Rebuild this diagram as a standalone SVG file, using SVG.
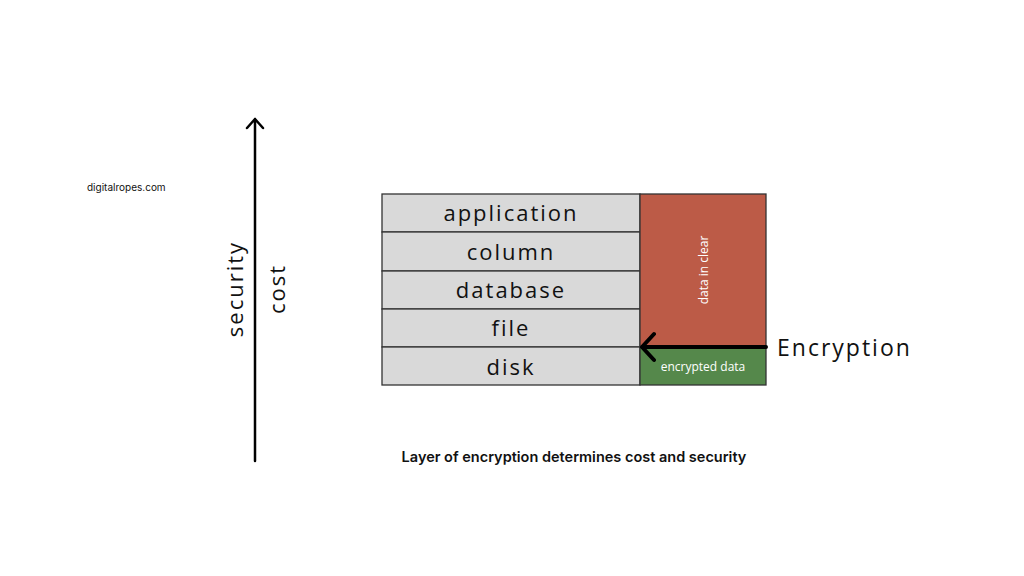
<svg xmlns="http://www.w3.org/2000/svg" width="1024" height="576" viewBox="0 0 1024 576">
<style>
.row{fill:#d9d9d9;stroke:#333;stroke-width:1.3}
.lbl{font-family:"Open Sans",sans-serif;font-size:22px;letter-spacing:2px;fill:#111;text-anchor:middle}
.ln{stroke:#000;fill:none;stroke-linecap:round;stroke-linejoin:round}
</style>
<rect width="1024" height="576" fill="#fff"/>
<text x="87" y="191" font-family="Inter,sans-serif" font-size="10" fill="#111">digitalropes.com</text>
<g id="axis">
<path class="ln" d="M255 461V119M247 128L255 119L263 128" stroke-width="2.5"/>
<text transform="translate(243 289) rotate(-90)" class="lbl">security</text>
<text transform="translate(285 289) rotate(-90)" class="lbl">cost</text>
</g>
<g id="application"><rect class="row" x="382" y="194" width="258" height="38"/><text class="lbl" x="511" y="221">application</text></g>
<g id="column"><rect class="row" x="382" y="232" width="258" height="39"/><text class="lbl" x="511" y="260">column</text></g>
<g id="database"><rect class="row" x="382" y="271" width="258" height="38"/><text class="lbl" x="511" y="298">database</text></g>
<g id="file"><rect class="row" x="382" y="309" width="258" height="38"/><text class="lbl" x="511" y="336">file</text></g>
<g id="disk"><rect class="row" x="382" y="347" width="258" height="38"/><text class="lbl" x="511" y="375">disk</text></g>
<g id="clear"><rect x="640" y="194" width="126" height="153" fill="#bc5b47" stroke="#333" stroke-width="1.3"/>
<text transform="translate(708 270) rotate(-90)" font-family="Open Sans,sans-serif" font-size="12" fill="#fff" text-anchor="middle">data in clear</text></g>
<g id="encrypted"><rect x="640" y="347" width="126" height="38" fill="#55884b" stroke="#333" stroke-width="1.3"/>
<text x="703" y="371" font-family="Open Sans,sans-serif" font-size="12" fill="#fff" text-anchor="middle">encrypted data</text></g>
<g id="connectors">
<path class="ln" d="M766 347H642M654 334L642 347L654 360" stroke-width="4"/>
</g>
<text x="777" y="356" font-family="Open Sans,sans-serif" font-size="23" letter-spacing="2" fill="#111">Encryption</text>
<text x="574" y="462" font-family="Inter,sans-serif" font-size="14.5" font-weight="600" fill="#111" text-anchor="middle">Layer of encryption determines cost and security</text>
</svg>
